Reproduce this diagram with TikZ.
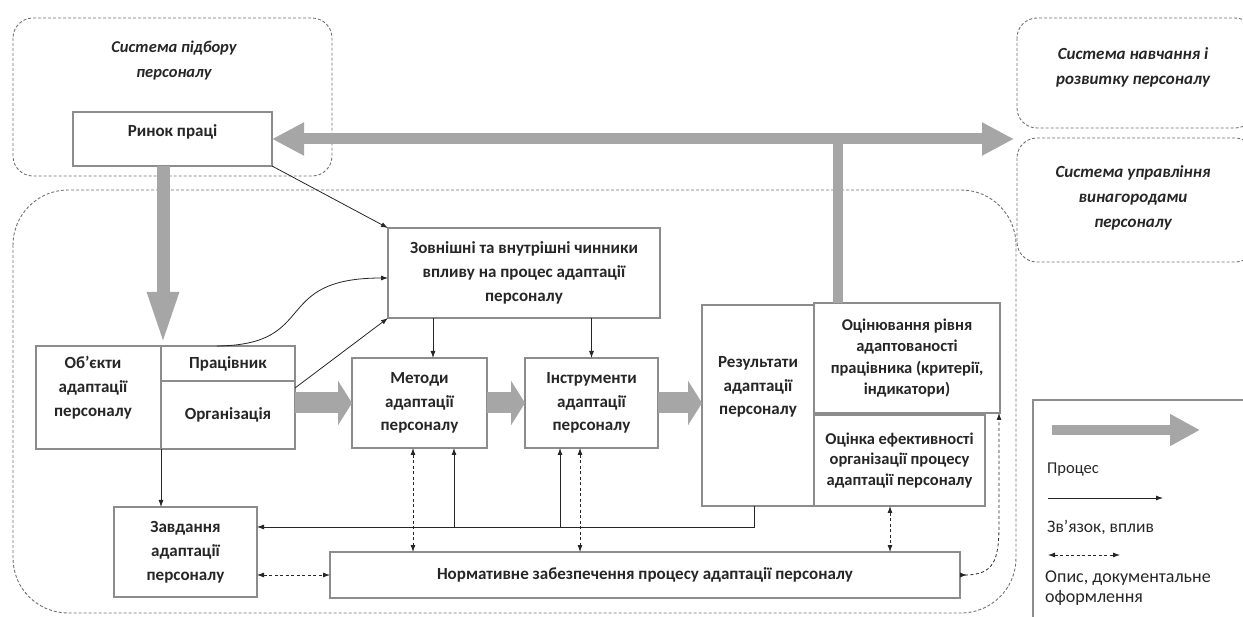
\documentclass[tikz,border=0pt]{standalone}
\usepackage{fontspec}
\setmainfont{Carlito}
\usetikzlibrary{arrows.meta,calc}
\definecolor{boxc}{HTML}{8C8C8C}
\definecolor{procc}{HTML}{A6A6A6}
\definecolor{dashc}{HTML}{707070}
\definecolor{txt}{HTML}{262626}
\begin{document}
\begin{tikzpicture}[x=1pt,y=-1pt,
  box/.style={draw=boxc, line width=1.3pt, inner sep=0pt, outer sep=0pt, align=center, text=txt,
    font=\fontsize{17}{23.8}\selectfont\bfseries},
  btxt/.style={inner sep=0pt, align=center, text=txt, font=\fontsize{17}{23.8}\selectfont\bfseries},
  region/.style={draw=dashc, line width=0.9pt, dash pattern=on 3pt off 2pt},
  systxt/.style={inner sep=0pt, align=center, text=txt, font=\fontsize{17}{25}\selectfont\bfseries\itshape},
  legtxt/.style={inner sep=0pt, align=left, text=txt, font=\fontsize{17}{20}\selectfont},
  link/.style={draw=black!85, line width=0.8pt, -{Latex[length=7pt,width=5pt]}},
  doclink/.style={draw=black!85, line width=0.8pt, dash pattern=on 3pt off 2.5pt,
    {Latex[length=7pt,width=5pt]}-{Latex[length=7pt,width=5pt]}},
  proc/.style={draw=procc, line width=21pt, -{Triangle[length=14pt,width=44pt]}}
]
\useasboundingbox (0,0) rectangle (1243,617);
\clip (0,0) rectangle (1243,617);

% regions
\draw[region, rounded corners=20pt] (13,18) rectangle (332,176);
\draw[region, rounded corners=55pt] (13,190) rectangle (1016,613);
\draw[region, rounded corners=20pt] (1017,18) rectangle (1255,128);
\draw[region, rounded corners=20pt] (1017,138) rectangle (1255,262);
\node[systxt, font=\fontsize{16.5}{25}\selectfont\bfseries\itshape] (sys1) at (174,60.5) {Система підбору\\персоналу};
\node[systxt] (sys2) at (1133,67.5) {Система навчання і\\розвитку персоналу};
\node[systxt] (sys3) at (1133,197.5) {Система управління\\винагородами\\персоналу};

% boxes
\node[box, minimum width=199pt, minimum height=54pt] (rynok) at (172.5,139) {};
\node[btxt] (rynokT) at (172.5,132) {Ринок праці};
\node[box, minimum width=272pt, minimum height=90pt] (zovn) at (524,273)
  {Зовнішні та внутрішні чинники\\впливу на процес адаптації\\персоналу};
\node[box, minimum width=125pt, minimum height=103pt] (objL) at (98.5,397.5) {};
\node[btxt] (objT) at (93,387.5) {Об’єкти\\адаптації\\персоналу};
\node[box, minimum width=134pt, minimum height=35pt] (prac) at (228,363.5) {Працівник};
\node[box, minimum width=134pt, minimum height=68pt] (org) at (228,415) {Організація};
\node[box, minimum width=135pt, minimum height=90pt] (metody) at (419.5,403) {Методи\\адаптації\\персоналу};
\node[box, minimum width=133pt, minimum height=90pt] (instr) at (591.5,403) {Інструменти\\адаптації\\персоналу};
\node[box, minimum width=112pt, minimum height=201pt] (rez) at (758,405.5) {};
\node[btxt] (rezT) at (758,387) {Результати\\адаптації\\персоналу};
\node[box, minimum width=186pt, minimum height=110pt, font=\fontsize{16.5}{21.3}\selectfont\bfseries] (otsin) at (907,358)
  {Оцінювання рівня\\адаптованості\\працівника (критерії,\\індикатори)};
\node[box, minimum width=171pt, minimum height=91pt, font=\fontsize{16.5}{20.5}\selectfont\bfseries] (otsinka) at (899.5,460.5)
  {Оцінка ефективності\\організації процесу\\адаптації персоналу};
\node[box, minimum width=143pt, minimum height=90pt] (zavd) at (185.5,552) {Завдання\\адаптації\\персоналу};
\node[box, minimum width=630pt, minimum height=46pt] (norm) at (645,575)
  {Нормативне забезпечення процесу адаптації персоналу};

% helper coordinates
\coordinate (c163) at (163,0);
\coordinate (c838) at (838,0);
\coordinate (c413) at (413,0);
\coordinate (c454) at (454,0);
\coordinate (c560) at (560,0);
\coordinate (c580) at (580,0);
\coordinate (c754) at (754,0);
\coordinate (c890) at (890,0);
\coordinate (c433) at (433,0);
\coordinate (r527) at (0,527);
\coordinate (rarrow) at (1014,139);

% process arrows
\draw[draw=procc, line width=10pt] (rarrow -| c838) -- (c838 |- otsin.north);
\draw[draw=procc, line width=11pt, {Triangle[length=32pt,width=31pt]}-{Triangle[length=32pt,width=31pt]}]
  (rynok.east) -- (rarrow);
\draw[draw=procc, line width=13pt, -{Triangle[length=54pt,width=28pt]}] (c163 |- rynok.south) -- (c163 |- objL.north);
\draw[proc] (org.east |- metody) -- (metody.west);
\draw[proc] (metody.east) -- (instr.west);
\draw[proc] (instr.east) -- (instr.east -| rez.west);

% links
\draw[link] (rynok.south east) -- (zovn.north west);
\draw[link] ([xshift=-11pt]prac.north) .. controls (320,345) and (270,278) .. ([yshift=-5pt]zovn.west);
\draw[link] ([yshift=-7pt]org.north east) -- (zovn.south west);
\draw[link] (c433 |- zovn.south) -- (c433 |- metody.north);
\draw[link] (instr.north |- zovn.south) -- (instr.north);
\draw[link] (objL.south east) -- (objL.south east |- zavd.north);
\draw[link] (c754 |- rez.south) |- (zavd.east |- r527);
\draw[link] (c754 |- rez.south) |- (c454 |- r527) -- (c454 |- metody.south);
\draw[link] (c754 |- rez.south) |- (c560 |- r527) -- (c560 |- instr.south);

% documentation links
\draw[doclink] (c413 |- metody.south) -- (c413 |- norm.north);
\draw[doclink] (c580 |- instr.south) -- (c580 |- norm.north);
\draw[doclink] (c890 |- otsinka.south) -- (c890 |- norm.north);
\draw[doclink] (norm.west -| zavd.east) -- (norm.west);
\draw[draw=black!85, line width=0.8pt, dash pattern=on 3pt off 2.5pt,
    {Latex[length=7pt,width=5pt,reversed]}-{Latex[length=7pt,width=5pt]}]
  (norm.east) .. controls (994,575) and (999,560) .. (999,525) -- ([xshift=-1pt]otsin.south east);

% legend
\draw[draw=boxc, line width=1.3pt] (1033,400) rectangle (1262,640);
\coordinate (lg1) at (1052,430);
\coordinate (lg2) at (1200,430);
\draw[draw=procc, line width=10pt, -{Triangle[length=30pt,width=30pt]}] (lg1) -- (lg2);
\node[legtxt, font=\fontsize{16.5}{20}\selectfont, anchor=west] (lgp) at (1047,470) {Процес};
\coordinate (lg3) at (1048,498);
\coordinate (lg4) at (1163,498);
\draw[link] (lg3) -- (lg4);
\node[legtxt, font=\fontsize{17.5}{20}\selectfont, anchor=west] (lgz) at (1047,527) {Зв’язок, вплив};
\coordinate (lg5) at (1048,555);
\coordinate (lg6) at (1120,555);
\draw[doclink] (lg5) -- (lg6);
\node[legtxt, font=\fontsize{18}{20.5}\selectfont, anchor=west] (lgo) at (1045,588) {Опис, документальне\\оформлення};
\end{tikzpicture}
\end{document}
